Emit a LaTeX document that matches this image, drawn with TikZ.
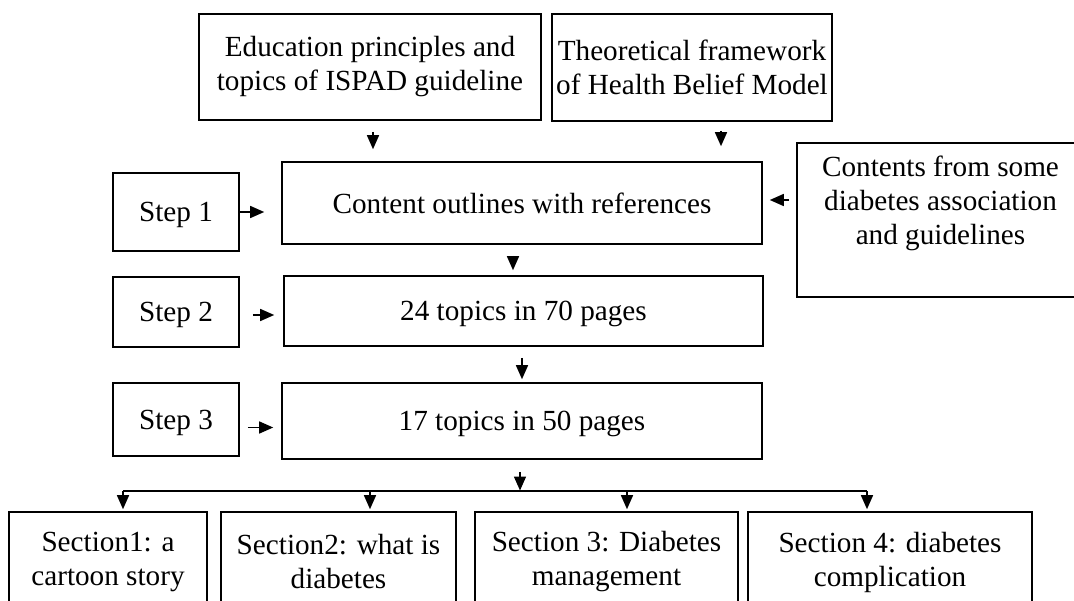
\documentclass[tikz,border=0pt]{standalone}
\usepackage{fontspec}
\setmainfont{Liberation Serif}
\usetikzlibrary{arrows.meta}
\begin{document}
\begin{tikzpicture}[x=1pt,y=-1pt,
  txt/.style={inner sep=0pt, align=center, font=\fontsize{29.2}{34}\selectfont},
  box/.style={txt, draw, line width=1.6pt},
  onebox/.style={box, text depth=0pt},
  arr/.style={line width=1.5pt, -{Triangle[length=14pt,width=12pt]}},
  bus/.style={line width=1.5pt},
]
\useasboundingbox (0,0) rectangle (1074,601);
\clip (0,0) rectangle (1074,601);

% sources
\node[box, minimum width=342pt, minimum height=106pt] (edu) at (370,67)
  {Education principles and\\topics of ISPAD guideline};
\node[box, minimum width=280pt, minimum height=107pt] (hbm) at (692,67.5)
  {Theoretical framework\\of Health Belief Model};
\node[box, minimum width=287pt, minimum height=154pt] (assoc) at (940.5,220) {};
\node[txt] (assocText) at ([yshift=17pt]assoc.center)
  {Contents from some\\diabetes association\\and guidelines};

% main column
\node[onebox, minimum width=480pt, minimum height=82pt] (outline) at (522,203)
  {Content outlines with references};
\node[onebox, minimum width=479pt, minimum height=70pt] (draft) at (523.5,311)
  {24 topics in 70 pages};
\node[onebox, minimum width=480pt, minimum height=76pt] (final) at (522,421)
  {17 topics in 50 pages};

% steps
\node[onebox, minimum width=126pt, minimum height=78pt] (s1) at (176,212) {Step 1};
\node[onebox, minimum width=126pt, minimum height=70pt] (s2) at (176,312) {Step 2};
\node[onebox, minimum width=126pt, minimum height=73pt] (s3) at (176,419.5) {Step 3};

% sections
\node[box, minimum width=198pt, minimum height=100pt] (sec1) at (108,562)
  {Section1: a\\cartoon story};
\node[box, minimum width=235pt, minimum height=100pt] (sec2) at (338.5,562)
  {Section2: what is\\diabetes};
\node[box, minimum width=263pt, minimum height=100pt] (sec3) at (606.5,562)
  {Section 3: Diabetes\\management};
\node[box, minimum width=284pt, minimum height=100pt] (sec4) at (890,562)
  {Section 4: diabetes\\complication};

% inputs into the outline
\coordinate (eduOut) at ([xshift=3pt]edu.south);
\coordinate (hbmOut) at ([xshift=29pt]hbm.south);
\coordinate (assocOut) at ([yshift=20pt]assoc.west);
\draw[arr, shorten <=11pt, shorten >=12pt] (eduOut) -- (eduOut |- outline.north);
\draw[arr, shorten <=9pt, shorten >=15pt] (hbmOut) -- (hbmOut |- outline.north);
\draw[arr, shorten <=7pt, shorten >=7pt] (assocOut) -- (assocOut -| outline.east);

% step arrows
\coordinate (s2Out) at ([yshift=-3pt]s2.east);
\coordinate (s3Out) at ([yshift=-8pt]s3.east);
\draw[arr, shorten >=17pt] (s1.east) -- (s1.east -| outline.west);
\draw[arr, shorten <=13pt, shorten >=9pt] (s2Out) -- (s2Out -| draft.west);
\draw[arr, shorten <=8pt, shorten >=8pt] (s3Out) -- (s3Out -| final.west);

% column arrows
\coordinate (outlineOut) at ([xshift=-9pt]outline.south);
\coordinate (draftOut) at ([xshift=-1.5pt]draft.south);
\coordinate (finalOut) at ([xshift=-2pt]final.south);
\draw[arr, shorten <=11pt, shorten >=5pt] (outlineOut) -- (outlineOut |- draft.north);
\draw[arr, shorten <=11pt, shorten >=3pt] (draftOut) -- (draftOut |- final.north);

% split into the four sections
\coordinate (busL) at (123,491);
\coordinate (bus2) at (370,491);
\coordinate (bus3) at (627,491);
\coordinate (busR) at (867,491);
\draw[arr, shorten <=12pt, shorten >=0.5pt] (finalOut) -- (finalOut |- busL);
\draw[bus] (busL) -- (busR);
\draw[arr, shorten >=2pt] (busL) -- (busL |- sec1.north);
\draw[arr, shorten >=2pt] (bus2) -- (bus2 |- sec2.north);
\draw[arr, shorten >=2pt] (bus3) -- (bus3 |- sec3.north);
\draw[arr, shorten >=2pt] (busR) -- (busR |- sec4.north);
\end{tikzpicture}
\end{document}
